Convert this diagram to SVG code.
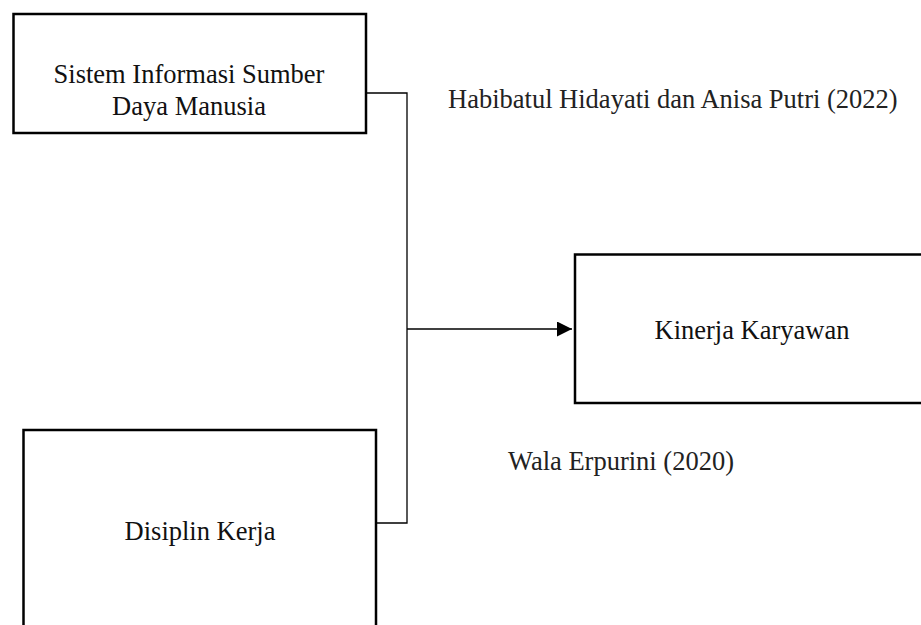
<svg xmlns="http://www.w3.org/2000/svg" width="921" height="625" viewBox="0 0 921 625">
<style>
.box{fill:#fff;stroke:#000;stroke-width:2.5}
.t{font-family:"Liberation Serif","Times New Roman",serif;font-size:26.5px;fill:#111;text-anchor:middle}
.l{font-family:"Liberation Serif","Times New Roman",serif;font-size:26.5px;fill:#222}
.c{fill:none;stroke:#000;stroke-width:1.3}
</style>
<defs>
<marker id="arr" viewBox="0 0 10 10" refX="10" refY="5" markerWidth="15" markerHeight="15" markerUnits="userSpaceOnUse" orient="auto">
<path d="M0,0 L10,5 L0,10 z" fill="#000"/>
</marker>
</defs>
<rect width="921" height="625" fill="#fff"/>
<g id="n-sisdm">
<rect class="box" x="13.5" y="14" width="352.5" height="119"/>
<text class="t" x="189" y="83">Sistem Informasi Sumber</text>
<text class="t" x="189" y="115">Daya Manusia</text>
</g>
<g id="n-disiplin">
<rect class="box" x="23.5" y="430" width="352.5" height="210"/>
<text class="t" x="200" y="540">Disiplin Kerja</text>
</g>
<g id="n-kinerja">
<rect class="box" x="575" y="254.5" width="360" height="148.5"/>
<text class="t" x="752" y="339">Kinerja Karyawan</text>
</g>
<g id="connectors">
<polyline class="c" points="366,93 407,93 407,523 377,523"/>
<line class="c" x1="407" y1="329" x2="572" y2="329" marker-end="url(#arr)"/>
</g>
<g id="labels">
<text class="l" x="448" y="108">Habibatul Hidayati dan Anisa Putri (2022)</text>
<text class="l" x="508" y="470">Wala Erpurini (2020)</text>
</g>
</svg>
